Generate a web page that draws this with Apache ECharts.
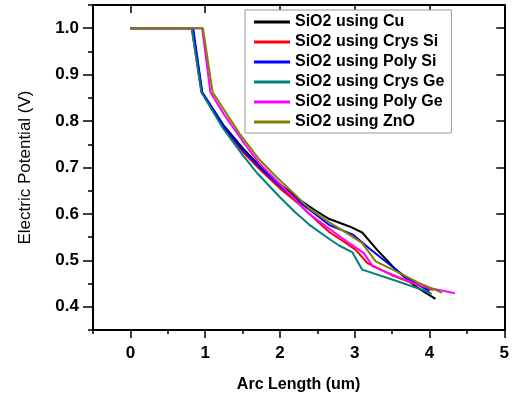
<!DOCTYPE html>
<html>
<head>
<meta charset="utf-8">
<script src="https://cdn.jsdelivr.net/npm/echarts@6/dist/echarts.min.js"></script>
<style>html,body{margin:0;padding:0;background:#fff}#c{width:512px;height:398px}</style>
</head>
<body>
<div id="c"></div>
<script>
const seriesNames = ['SiO2 using Cu','SiO2 using Crys Si','SiO2 using Poly Si','SiO2 using Crys Ge','SiO2 using Poly Ge','SiO2 using ZnO'];
const seriesColors = ['#000000','#ff0000','#0000ff','#008080','#ff00ff','#808000'];
const xTickValues = [0,1,2,3,4,5];
const yTickValues = [0.4,0.5,0.6,0.7,0.8,0.9,1.0];

const cu = [[0,1.0],[0.83,1.0],[0.96,0.862],[1.25,0.790],[1.5,0.742],[1.75,0.700],[2.0,0.664],[2.25,0.632],[2.46,0.609],[2.66,0.589],[2.93,0.573],[3.10,0.560],[3.32,0.519],[3.55,0.480],[3.81,0.444],[4.08,0.417]];
const crysSi = [[0,1.0],[0.82,1.0],[0.95,0.862],[1.25,0.785],[1.5,0.734],[1.75,0.693],[2.0,0.655],[2.25,0.622],[2.5,0.584],[2.66,0.561],[2.85,0.541],[3.01,0.523],[3.17,0.494],[3.5,0.468],[3.9,0.443],[4.05,0.436]];
const polySi = [[0,1.0],[0.84,1.0],[0.96,0.862],[1.25,0.788],[1.5,0.738],[1.75,0.697],[2.0,0.660],[2.25,0.627],[2.5,0.596],[2.66,0.576],[2.97,0.556],[3.2,0.525],[3.41,0.498],[3.7,0.462],[4.0,0.433]];
const crysGe = [[0,1.0],[0.82,1.0],[0.95,0.862],[1.24,0.784],[1.5,0.727],[1.7,0.687],[2.0,0.636],[2.2,0.604],[2.39,0.577],[2.66,0.546],[2.79,0.532],[2.97,0.517],[3.10,0.480],[3.55,0.456],[3.95,0.434],[4.03,0.428]];
const polyGe = [[0,1.0],[0.96,1.0],[1.07,0.862],[1.25,0.815],[1.5,0.757],[1.73,0.708],[2.0,0.664],[2.2,0.632],[2.39,0.600],[2.66,0.568],[2.9,0.540],[3.12,0.516],[3.24,0.487],[3.55,0.466],[3.90,0.444],[4.34,0.429]];
const znO = [[0,1.0],[0.97,1.0],[1.10,0.862],[1.25,0.825],[1.46,0.773],[1.73,0.716],[1.95,0.680],[2.2,0.642],[2.39,0.612],[2.66,0.582],[2.9,0.558],[3.10,0.537],[3.28,0.498],[3.55,0.477],[3.85,0.452],[4.17,0.430]];
const seriesData = [cu, crysSi, polySi, crysGe, polyGe, znO];

const FONT = 'Liberation Sans';
const chart = echarts.init(document.getElementById('c'), null, {renderer:'canvas'});
const axisLineStyle = {color:'#000', width:2};
const isMajor = (v, step) => Math.abs(v/step - Math.round(v/step)) < 1e-6;

const option = {
  backgroundColor:'#fff',
  animation:false,
  grid:{left:93, right:6, top:5, bottom:66},
  legend:{
    orient:'vertical', left:245, top:10,
    padding:[4,7,3,9], itemGap:4, itemWidth:36, itemHeight:3, itemTextGap:5,
    icon:'rect', borderColor:'#999', borderWidth:1, backgroundColor:'#fff',
    textStyle:{fontFamily:FONT, fontWeight:'bold', fontSize:16, lineHeight:16, color:'#000'},
    data:seriesNames
  },
  xAxis:[
    {type:'value', position:'bottom', min:-0.5, max:5, interval:0.5,
     axisLine:{onZero:false, lineStyle:axisLineStyle},
     axisTick:{length:4, lineStyle:{color:'#000', width:1.5}},
     splitLine:{show:false},
     axisLabel:{margin:15, color:'#000', fontFamily:FONT, fontWeight:'bold', fontSize:17,
       formatter:v => isMajor(v,1) ? String(Math.round(v)) : ''},
     name:'Arc Length (um)', nameLocation:'middle', nameGap:47,
     nameTextStyle:{fontFamily:FONT, fontWeight:'bold', fontSize:16, color:'#000'}},
    {type:'value', position:'bottom', min:-0.5, max:5,
     axisLine:{show:false, onZero:false},
     axisTick:{length:8, customValues:xTickValues, lineStyle:{color:'#000', width:1.5}},
     axisLabel:{show:false}, splitLine:{show:false}},
    {type:'value', position:'top', min:-0.5, max:5,
     axisLine:{onZero:false, lineStyle:axisLineStyle},
     axisTick:{inside:true, length:8, customValues:xTickValues, lineStyle:{color:'#000', width:1.5}},
     axisLabel:{show:false}, splitLine:{show:false}}
  ],
  yAxis:[
    {type:'value', position:'left', min:0.35, max:1.05, interval:0.05,
     axisLine:{show:true, onZero:false, lineStyle:axisLineStyle},
     axisTick:{show:true, length:5, lineStyle:{color:'#000', width:1.5}},
     splitLine:{show:false},
     axisLabel:{margin:14, color:'#000', fontFamily:FONT, fontWeight:'bold', fontSize:17,
       formatter:v => isMajor(v,0.1) ? v.toFixed(1) : ''},
     name:'Electric Potential (V)', nameLocation:'middle', nameGap:59, nameRotate:90,
     nameTextStyle:{fontFamily:FONT, fontWeight:'normal', fontSize:17, color:'#000'}},
    {type:'value', position:'left', min:0.35, max:1.05,
     axisLine:{show:false, onZero:false},
     axisTick:{show:true, length:10, customValues:yTickValues, lineStyle:{color:'#000', width:1.5}},
     axisLabel:{show:false}, splitLine:{show:false}},
    {type:'value', position:'right', min:0.35, max:1.05,
     axisLine:{show:true, onZero:false, lineStyle:axisLineStyle},
     axisTick:{show:true, inside:true, length:8, customValues:yTickValues, lineStyle:{color:'#000', width:1.5}},
     axisLabel:{show:false}, splitLine:{show:false}}
  ],
  series: seriesNames.map((n,i) => ({
    name:n, type:'line', xAxisIndex:0, yAxisIndex:0,
    data:seriesData[i], showSymbol:false, symbol:'none',
    lineStyle:{color:seriesColors[i], width:2}, itemStyle:{color:seriesColors[i]},
    z:2+i
  }))
};
chart.setOption(option);
</script>
</body>
</html>
